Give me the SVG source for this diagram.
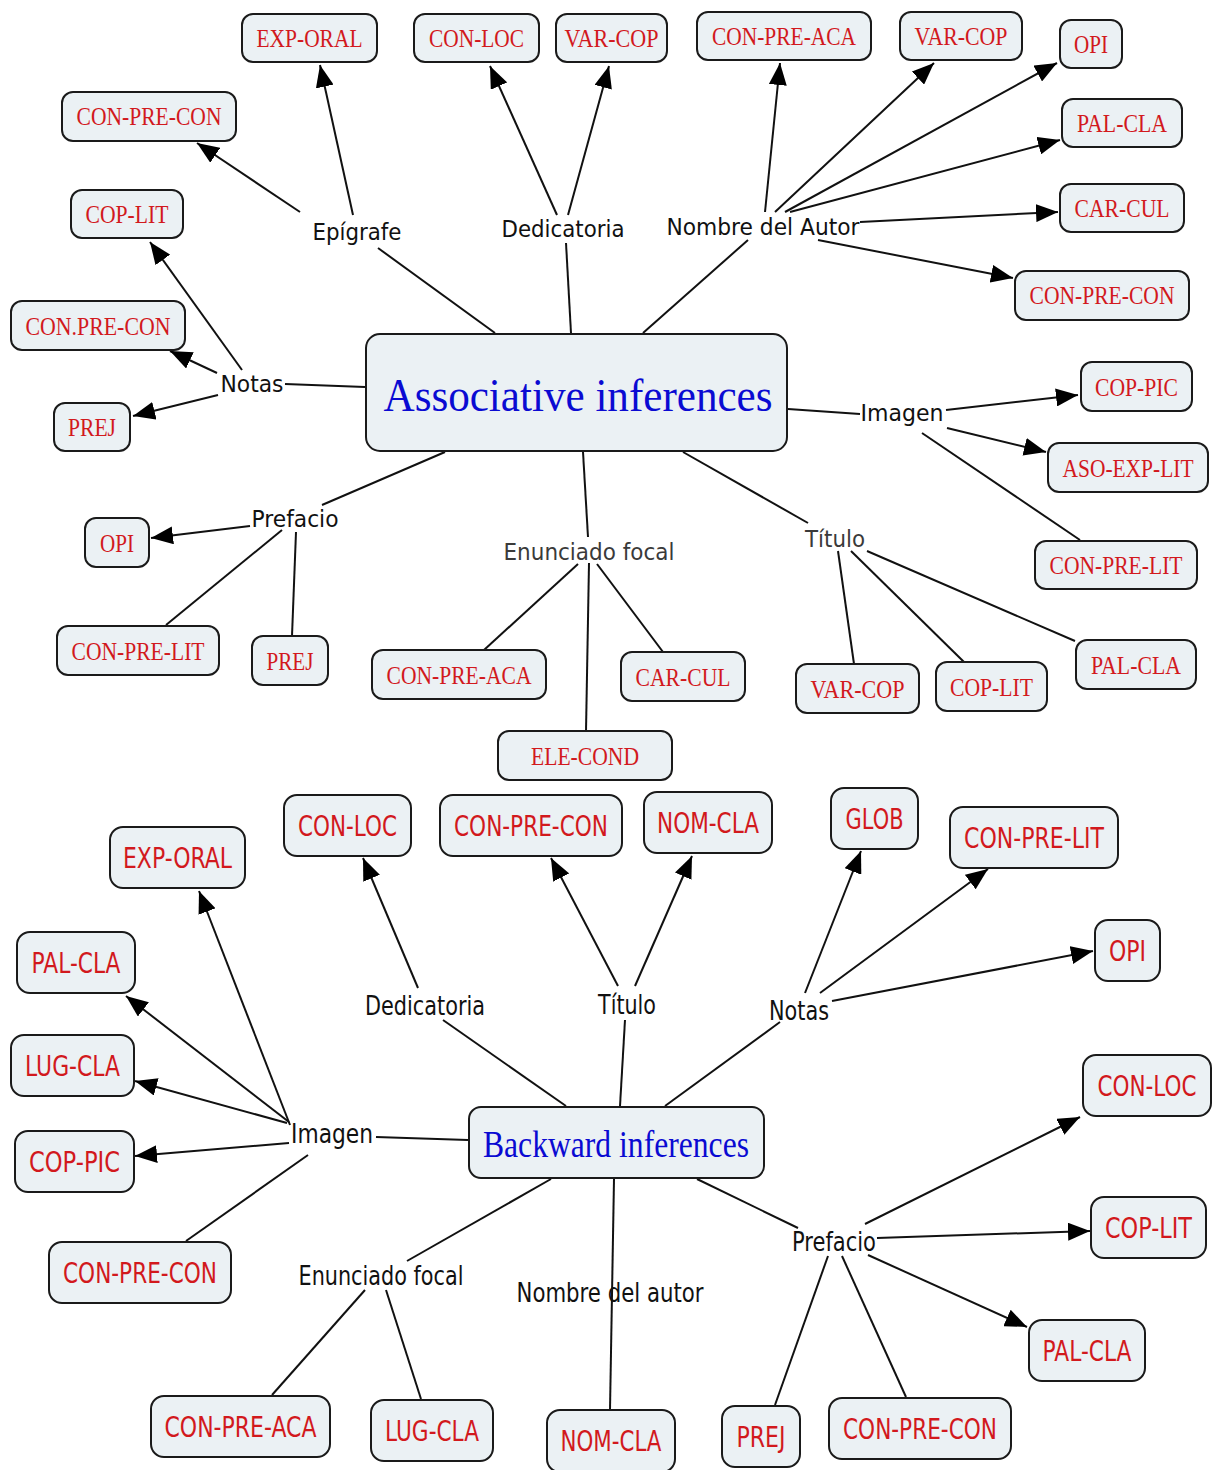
<svg xmlns="http://www.w3.org/2000/svg" width="1217" height="1470" viewBox="0 0 1217 1470">
<style>
.n rect{fill:#ebf1f4;stroke:#1a1a1a;stroke-width:2}
.t1{font-family:"Liberation Serif",serif;font-size:26px;fill:#d2191d;text-anchor:middle}
.t2{font-family:"DejaVu Sans",sans-serif;font-size:29px;fill:#d2191d;text-anchor:middle}
.m1{font-family:"Liberation Serif",serif;fill:#0a0ad2;text-anchor:middle}
.l1{font-family:"DejaVu Sans",sans-serif;font-size:23px;fill:#111;text-anchor:middle}
.lg{fill:#3a3a3a}
.l2{font-family:"DejaVu Sans",sans-serif;font-size:26px;fill:#111;text-anchor:middle}
#links path{fill:none;stroke:#111;stroke-width:2}
#links path.a{marker-end:url(#ah)}
</style>
<defs>
<marker id="ah" markerUnits="userSpaceOnUse" markerWidth="24" markerHeight="18" refX="22" refY="9" orient="auto"><path d="M0,0 L22,9 L0,18 z" fill="#000"/></marker>
</defs>
<rect width="1217" height="1470" fill="#fff"/>
<g id="links">
<path d="M495,333 L378,248"/>
<path d="M571,333 L566,243"/>
<path d="M643,333 L748,240"/>
<path d="M365,387 L285,384"/>
<path d="M788,409 L860,414"/>
<path d="M445,452 L322,505"/>
<path d="M583,452 L588,537"/>
<path d="M683,452 L808,523"/>
<path class="a" d="M353,215 L320,65"/>
<path class="a" d="M300,212 L197,143"/>
<path class="a" d="M557,215 L490,66"/>
<path class="a" d="M568,215 L609,66"/>
<path class="a" d="M765,212 L780,63"/>
<path class="a" d="M775,212 L934,63"/>
<path class="a" d="M785,212 L1057,63"/>
<path class="a" d="M790,212 L1060,140"/>
<path class="a" d="M860,222 L1058,212"/>
<path class="a" d="M818,240 L1013,278"/>
<path class="a" d="M242,370 L150,242"/>
<path class="a" d="M217,373 L170,351"/>
<path class="a" d="M218,395 L133,416"/>
<path class="a" d="M946,410 L1078,395"/>
<path class="a" d="M947,428 L1046,452"/>
<path d="M922,433 L1080,540"/>
<path class="a" d="M250,526 L151,538"/>
<path d="M282,530 L166,625"/>
<path d="M296,532 L292,636"/>
<path d="M578,564 L484,650"/>
<path d="M589,563 L586,731"/>
<path d="M597,564 L663,652"/>
<path d="M838,551 L854,664"/>
<path d="M851,551 L964,662"/>
<path d="M867,551 L1075,641"/>
<path d="M566,1106 L443,1020"/>
<path d="M620,1106 L625,1020"/>
<path d="M665,1106 L780,1022"/>
<path d="M468,1140 L376,1137"/>
<path d="M551,1179 L407,1261"/>
<path d="M614,1179 L610,1410"/>
<path d="M697,1179 L798,1228"/>
<path class="a" d="M290,1125 L199,891"/>
<path class="a" d="M289,1122 L126,996"/>
<path class="a" d="M287,1123 L135,1081"/>
<path class="a" d="M289,1143 L135,1156"/>
<path d="M308,1155 L186,1241"/>
<path class="a" d="M418,988 L363,858"/>
<path class="a" d="M618,986 L551,858"/>
<path class="a" d="M635,986 L692,856"/>
<path class="a" d="M805,993 L861,851"/>
<path class="a" d="M820,993 L988,869"/>
<path class="a" d="M832,1001 L1093,951"/>
<path d="M365,1290 L272,1395"/>
<path d="M386,1290 L421,1399"/>
<path class="a" d="M865,1224 L1080,1117"/>
<path class="a" d="M877,1238 L1090,1231"/>
<path class="a" d="M868,1255 L1027,1327"/>
<path d="M828,1256 L775,1405"/>
<path d="M842,1256 L906,1397"/>
</g>
<g id="labels">
<text class="l1" x="357" y="240" textLength="89" lengthAdjust="spacingAndGlyphs">Epígrafe</text>
<text class="l1" x="563" y="237" textLength="123" lengthAdjust="spacingAndGlyphs">Dedicatoria</text>
<text class="l1" x="763" y="235" textLength="193" lengthAdjust="spacingAndGlyphs">Nombre del Autor</text>
<text class="l1" x="252" y="392" textLength="63" lengthAdjust="spacingAndGlyphs">Notas</text>
<text class="l1" x="902" y="421" textLength="83" lengthAdjust="spacingAndGlyphs">Imagen</text>
<text class="l1" x="295" y="527" textLength="87" lengthAdjust="spacingAndGlyphs">Prefacio</text>
<text class="l1 lg" x="589" y="560" textLength="171" lengthAdjust="spacingAndGlyphs">Enunciado focal</text>
<text class="l1 lg" x="835" y="547" textLength="60" lengthAdjust="spacingAndGlyphs">Título</text>
<text class="l2" x="425" y="1015" textLength="120" lengthAdjust="spacingAndGlyphs">Dedicatoria</text>
<text class="l2" x="627" y="1014" textLength="58" lengthAdjust="spacingAndGlyphs">Título</text>
<text class="l2" x="799" y="1020" textLength="60" lengthAdjust="spacingAndGlyphs">Notas</text>
<text class="l2" x="332" y="1143" textLength="82" lengthAdjust="spacingAndGlyphs">Imagen</text>
<text class="l2" x="381" y="1285" textLength="165" lengthAdjust="spacingAndGlyphs">Enunciado focal</text>
<text class="l2" x="610" y="1302" textLength="187" lengthAdjust="spacingAndGlyphs">Nombre del autor</text>
<text class="l2" x="834" y="1251" textLength="84" lengthAdjust="spacingAndGlyphs">Prefacio</text>
</g>
<g id="main1" class="n"><rect x="366" y="334" width="421" height="117" rx="14"/><text class="m1" x="578" y="411" font-size="46" textLength="389" lengthAdjust="spacingAndGlyphs">Associative inferences</text></g>
<g id="main2" class="n"><rect x="469" y="1107" width="295" height="71" rx="12"/><text class="m1" x="616" y="1157" font-size="38" textLength="266" lengthAdjust="spacingAndGlyphs">Backward inferences</text></g>
<g id="a1" class="n"><rect x="242" y="14" width="135" height="48" rx="11"/><text class="t1" x="309.5" y="47" textLength="106" lengthAdjust="spacingAndGlyphs">EXP-ORAL</text></g>
<g id="a2" class="n"><rect x="414" y="14" width="125" height="48" rx="11"/><text class="t1" x="476.5" y="47" textLength="95" lengthAdjust="spacingAndGlyphs">CON-LOC</text></g>
<g id="a3" class="n"><rect x="556" y="14" width="111" height="48" rx="11"/><text class="t1" x="611.5" y="47" textLength="94" lengthAdjust="spacingAndGlyphs">VAR-COP</text></g>
<g id="a4" class="n"><rect x="697" y="12" width="174" height="48" rx="11"/><text class="t1" x="784" y="45" textLength="144" lengthAdjust="spacingAndGlyphs">CON-PRE-ACA</text></g>
<g id="a5" class="n"><rect x="900" y="12" width="122" height="48" rx="11"/><text class="t1" x="961" y="45" textLength="93" lengthAdjust="spacingAndGlyphs">VAR-COP</text></g>
<g id="a6" class="n"><rect x="1060" y="20" width="62" height="48" rx="11"/><text class="t1" x="1091" y="53" textLength="34" lengthAdjust="spacingAndGlyphs">OPI</text></g>
<g id="a7" class="n"><rect x="1062" y="99" width="120" height="48" rx="11"/><text class="t1" x="1122" y="132" textLength="90" lengthAdjust="spacingAndGlyphs">PAL-CLA</text></g>
<g id="a8" class="n"><rect x="1060" y="184" width="124" height="48" rx="11"/><text class="t1" x="1122" y="217" textLength="95" lengthAdjust="spacingAndGlyphs">CAR-CUL</text></g>
<g id="a9" class="n"><rect x="1015" y="271" width="174" height="49" rx="11"/><text class="t1" x="1102" y="304" textLength="145" lengthAdjust="spacingAndGlyphs">CON-PRE-CON</text></g>
<g id="a10" class="n"><rect x="62" y="92" width="174" height="49" rx="11"/><text class="t1" x="149" y="125" textLength="145" lengthAdjust="spacingAndGlyphs">CON-PRE-CON</text></g>
<g id="a11" class="n"><rect x="71" y="190" width="112" height="48" rx="11"/><text class="t1" x="127" y="223" textLength="83" lengthAdjust="spacingAndGlyphs">COP-LIT</text></g>
<g id="a12" class="n"><rect x="11" y="301" width="174" height="49" rx="11"/><text class="t1" x="98" y="335" textLength="145" lengthAdjust="spacingAndGlyphs">CON.PRE-CON</text></g>
<g id="a13" class="n"><rect x="54" y="403" width="76" height="48" rx="11"/><text class="t1" x="92" y="436" textLength="48" lengthAdjust="spacingAndGlyphs">PREJ</text></g>
<g id="a14" class="n"><rect x="1081" y="362" width="111" height="49" rx="11"/><text class="t1" x="1136.5" y="396" textLength="83" lengthAdjust="spacingAndGlyphs">COP-PIC</text></g>
<g id="a15" class="n"><rect x="1048" y="443" width="160" height="49" rx="11"/><text class="t1" x="1128" y="477" font-size="23" textLength="131" lengthAdjust="spacingAndGlyphs">ASO-EXP-LIT</text></g>
<g id="a16" class="n"><rect x="1035" y="541" width="162" height="48" rx="11"/><text class="t1" x="1116" y="574" textLength="133" lengthAdjust="spacingAndGlyphs">CON-PRE-LIT</text></g>
<g id="a17" class="n"><rect x="1076" y="640" width="120" height="49" rx="11"/><text class="t1" x="1136" y="674" textLength="90" lengthAdjust="spacingAndGlyphs">PAL-CLA</text></g>
<g id="a18" class="n"><rect x="936" y="662" width="111" height="49" rx="11"/><text class="t1" x="991.5" y="696" textLength="83" lengthAdjust="spacingAndGlyphs">COP-LIT</text></g>
<g id="a19" class="n"><rect x="796" y="664" width="123" height="49" rx="11"/><text class="t1" x="857.5" y="698" textLength="94" lengthAdjust="spacingAndGlyphs">VAR-COP</text></g>
<g id="a20" class="n"><rect x="621" y="652" width="124" height="49" rx="11"/><text class="t1" x="683" y="686" textLength="95" lengthAdjust="spacingAndGlyphs">CAR-CUL</text></g>
<g id="a21" class="n"><rect x="372" y="650" width="174" height="49" rx="11"/><text class="t1" x="459" y="684" textLength="145" lengthAdjust="spacingAndGlyphs">CON-PRE-ACA</text></g>
<g id="a22" class="n"><rect x="498" y="731" width="174" height="49" rx="11"/><text class="t1" x="585" y="765" textLength="108" lengthAdjust="spacingAndGlyphs">ELE-COND</text></g>
<g id="a23" class="n"><rect x="252" y="636" width="76" height="49" rx="11"/><text class="t1" x="290" y="670" textLength="47" lengthAdjust="spacingAndGlyphs">PREJ</text></g>
<g id="a24" class="n"><rect x="57" y="626" width="162" height="49" rx="11"/><text class="t1" x="138" y="660" textLength="133" lengthAdjust="spacingAndGlyphs">CON-PRE-LIT</text></g>
<g id="a25" class="n"><rect x="85" y="518" width="64" height="49" rx="11"/><text class="t1" x="117" y="552" textLength="34" lengthAdjust="spacingAndGlyphs">OPI</text></g>
<g id="b1" class="n"><rect x="284" y="795" width="127" height="61" rx="13"/><text class="t2" x="347.5" y="836" textLength="99" lengthAdjust="spacingAndGlyphs">CON-LOC</text></g>
<g id="b2" class="n"><rect x="440" y="795" width="182" height="61" rx="13"/><text class="t2" x="531" y="836" textLength="154" lengthAdjust="spacingAndGlyphs">CON-PRE-CON</text></g>
<g id="b3" class="n"><rect x="644" y="792" width="128" height="61" rx="13"/><text class="t2" x="708" y="833" textLength="102" lengthAdjust="spacingAndGlyphs">NOM-CLA</text></g>
<g id="b4" class="n"><rect x="831" y="788" width="87" height="61" rx="13"/><text class="t2" x="874.5" y="829" textLength="58" lengthAdjust="spacingAndGlyphs">GLOB</text></g>
<g id="b5" class="n"><rect x="950" y="807" width="168" height="61" rx="13"/><text class="t2" x="1034" y="848" textLength="140" lengthAdjust="spacingAndGlyphs">CON-PRE-LIT</text></g>
<g id="b6" class="n"><rect x="1095" y="920" width="65" height="61" rx="13"/><text class="t2" x="1127.5" y="961" textLength="37" lengthAdjust="spacingAndGlyphs">OPI</text></g>
<g id="b7" class="n"><rect x="110" y="827" width="135" height="61" rx="13"/><text class="t2" x="177.5" y="868" textLength="109" lengthAdjust="spacingAndGlyphs">EXP-ORAL</text></g>
<g id="b8" class="n"><rect x="17" y="932" width="118" height="61" rx="13"/><text class="t2" x="76" y="973" textLength="89" lengthAdjust="spacingAndGlyphs">PAL-CLA</text></g>
<g id="b9" class="n"><rect x="11" y="1035" width="123" height="61" rx="13"/><text class="t2" x="72.5" y="1076" textLength="95" lengthAdjust="spacingAndGlyphs">LUG-CLA</text></g>
<g id="b10" class="n"><rect x="15" y="1131" width="119" height="61" rx="13"/><text class="t2" x="74.5" y="1172" textLength="91" lengthAdjust="spacingAndGlyphs">COP-PIC</text></g>
<g id="b11" class="n"><rect x="49" y="1242" width="182" height="61" rx="13"/><text class="t2" x="140" y="1283" textLength="154" lengthAdjust="spacingAndGlyphs">CON-PRE-CON</text></g>
<g id="b12" class="n"><rect x="151" y="1396" width="179" height="61" rx="13"/><text class="t2" x="240.5" y="1437" textLength="152" lengthAdjust="spacingAndGlyphs">CON-PRE-ACA</text></g>
<g id="b13" class="n"><rect x="371" y="1400" width="122" height="61" rx="13"/><text class="t2" x="432" y="1441" textLength="94" lengthAdjust="spacingAndGlyphs">LUG-CLA</text></g>
<g id="b14" class="n"><rect x="547" y="1410" width="128" height="62" rx="13"/><text class="t2" x="611" y="1451" textLength="101" lengthAdjust="spacingAndGlyphs">NOM-CLA</text></g>
<g id="b15" class="n"><rect x="722" y="1406" width="78" height="61" rx="13"/><text class="t2" x="761" y="1447" textLength="49" lengthAdjust="spacingAndGlyphs">PREJ</text></g>
<g id="b16" class="n"><rect x="829" y="1398" width="182" height="61" rx="13"/><text class="t2" x="920" y="1439" textLength="154" lengthAdjust="spacingAndGlyphs">CON-PRE-CON</text></g>
<g id="b17" class="n"><rect x="1029" y="1320" width="116" height="61" rx="13"/><text class="t2" x="1087" y="1361" textLength="89" lengthAdjust="spacingAndGlyphs">PAL-CLA</text></g>
<g id="b18" class="n"><rect x="1091" y="1197" width="115" height="61" rx="13"/><text class="t2" x="1148.5" y="1238" textLength="87" lengthAdjust="spacingAndGlyphs">COP-LIT</text></g>
<g id="b19" class="n"><rect x="1083" y="1055" width="128" height="61" rx="13"/><text class="t2" x="1147" y="1096" font-size="25" textLength="99" lengthAdjust="spacingAndGlyphs">CON-LOC</text></g>
</svg>
